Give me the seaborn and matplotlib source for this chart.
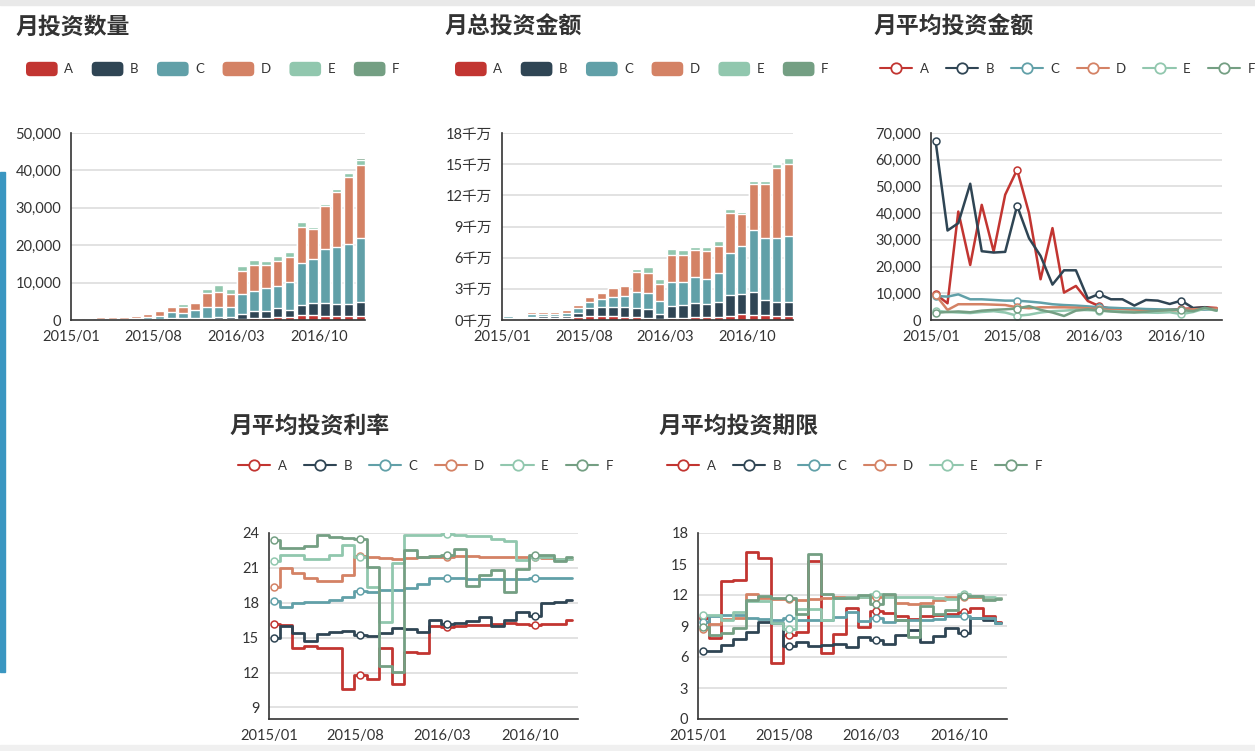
import matplotlib.pyplot as plt
import matplotlib.ticker as mticker
import numpy as np
import pandas as pd
import seaborn as sns
from matplotlib.legend_handler import HandlerPatch
from matplotlib.lines import Line2D
from matplotlib.patches import FancyBboxPatch, Patch, Rectangle


SERIES = ["A", "B", "C", "D", "E", "F"]
COLORS = ["#c23531", "#2f4554", "#61a0a8", "#d48265", "#91c7ae", "#749f83"]
MONTHS = pd.date_range("2015-01-01", periods=25, freq="MS")
DATES = MONTHS + pd.Timedelta(days=12)
TICK_LABELS = ["2015/01", "2015/08", "2016/03", "2016/10"]

# 月投资数量
COUNT_A = [30, 20, 40, 40, 40, 50, 70, 100, 120, 150, 150, 200, 200, 200, 400, 650, 600, 700, 700, 1300, 1400, 1200, 1100, 1100, 1100]
COUNT_B = [80, 60, 120, 120, 110, 150, 200, 250, 400, 400, 450, 400, 500, 550, 1200, 1750, 1900, 2500, 2100, 2800, 3150, 3250, 3300, 3300, 3650]
COUNT_C = [140, 120, 240, 240, 250, 400, 630, 800, 1530, 1300, 2000, 2900, 2870, 2650, 5300, 5460, 6160, 6000, 7470, 11100, 11700, 14550, 15150, 15800, 17150]
COUNT_D = [230, 180, 450, 450, 400, 450, 700, 1150, 1350, 1750, 2050, 3850, 4030, 3650, 6300, 6870, 5990, 6700, 6530, 9700, 8150, 11350, 14650, 18100, 19450]
COUNT_E = [60, 50, 100, 100, 70, 100, 200, 350, 400, 700, 100, 900, 1750, 1250, 1250, 1220, 1250, 1200, 1450, 1300, 600, 650, 800, 1050, 1550]
COUNT_F = [10, 10, 20, 20, 20, 20, 30, 40, 50, 60, 60, 80, 100, 100, 120, 150, 150, 160, 170, 200, 220, 250, 280, 300, 350]

# 月总投资金额 (千万)
AMOUNT_A = [0.10, 0.06, 0.19, 0.19, 0.22, 0.22, 0.32, 0.38, 0.35, 0.35, 0.25, 0.26, 0.16, 0.10, 0.23, 0.23, 0.26, 0.26, 0.26, 0.42, 0.58, 0.48, 0.48, 0.42, 0.39]
AMOUNT_B = [0.09, 0.07, 0.13, 0.16, 0.13, 0.20, 0.39, 0.74, 0.93, 0.93, 1.00, 0.93, 0.90, 0.45, 1.12, 1.25, 1.41, 1.28, 1.44, 1.99, 1.93, 2.25, 1.48, 1.28, 1.31]
AMOUNT_C = [0.16, 0.06, 0.26, 0.23, 0.23, 0.25, 0.41, 0.58, 0.74, 0.96, 1.03, 1.54, 1.54, 1.31, 2.28, 2.15, 2.48, 2.45, 2.80, 4.02, 4.63, 5.89, 5.98, 6.24, 6.40]
AMOUNT_D = [0.10, 0.07, 0.19, 0.19, 0.19, 0.26, 0.32, 0.51, 0.54, 0.80, 1.01, 1.93, 1.97, 1.58, 2.64, 2.67, 2.54, 2.63, 2.60, 3.83, 3.05, 4.50, 5.18, 6.69, 6.92]
AMOUNT_E = [0.11, 0.05, 0.09, 0.06, 0.06, 0.09, 0.09, 0.09, 0.09, 0.08, 0.06, 0.26, 0.57, 0.55, 0.53, 0.45, 0.35, 0.39, 0.53, 0.40, 0.21, 0.26, 0.28, 0.40, 0.56]
AMOUNT_F = [0.01, 0.01, 0.01, 0.01, 0.01, 0.01, 0.01, 0.01, 0.01, 0.02, 0.02, 0.02, 0.03, 0.02, 0.03, 0.03, 0.03, 0.03, 0.03, 0.04, 0.04, 0.04, 0.04, 0.05, 0.05]

# 月平均投资金额
AVG_A = [9700, 6250, 40600, 20600, 43100, 25600, 46900, 56250, 40000, 15250, 34400, 10250, 12750, 7100, 5250, 4200, 3900, 3700, 3600, 3500, 3800, 4100, 4400, 4800, 4500]
AVG_B = [66900, 33500, 36250, 51000, 25750, 25250, 25500, 42750, 30600, 24000, 13250, 18600, 18600, 8000, 9750, 7750, 7750, 5400, 7500, 7250, 6000, 7250, 4500, 4750, 4000]
AVG_C = [9000, 8750, 9600, 7750, 7750, 7500, 7250, 7250, 6900, 6500, 5900, 5600, 5400, 5100, 4750, 4600, 4400, 4300, 4100, 4000, 3900, 3900, 3800, 3900, 4000]
AVG_D = [9400, 3750, 5900, 5900, 5900, 5750, 5600, 4750, 4400, 4750, 4750, 4750, 4600, 4400, 4000, 3700, 3600, 3500, 3300, 3300, 3500, 3800, 4000, 4200, 4300]
AVG_E = [3500, 3000, 2800, 2600, 3000, 3300, 2800, 1600, 2000, 2800, 3300, 3500, 3800, 3700, 3500, 3300, 3200, 3000, 2800, 2700, 2900, 2200, 3000, 4300, 3500]
AVG_F = [2700, 3000, 3200, 2900, 3500, 3800, 4000, 4300, 5200, 3800, 2800, 1500, 3500, 4000, 3600, 3200, 2900, 2800, 3100, 3500, 3800, 3700, 3300, 4600, 3500]

# 月平均投资利率
RATE_A = [16.2, 16.1, 14.1, 14.3, 14.1, 14.1, 10.6, 11.8, 11.4, 14.1, 11.0, 13.8, 13.7, 16.0, 15.9, 16.0, 16.1, 16.1, 16.2, 16.3, 16.2, 16.1, 16.2, 16.2, 16.5]
RATE_B = [15.0, 16.0, 15.4, 14.7, 15.3, 15.5, 15.6, 15.25, 15.1, 15.4, 15.8, 15.7, 15.5, 16.5, 16.2, 16.3, 16.4, 16.8, 16.0, 16.5, 17.2, 16.9, 18.0, 18.1, 18.2]
RATE_C = [18.15, 17.6, 18.0, 18.05, 18.1, 18.2, 18.5, 19.0, 18.95, 19.1, 19.1, 19.3, 19.6, 20.1, 20.15, 20.1, 20.05, 20.05, 20.05, 20.05, 20.05, 20.1, 20.1, 20.15, 20.15]
RATE_D = [19.35, 21.0, 20.55, 20.1, 19.9, 19.9, 20.4, 22.0, 21.9, 21.85, 21.8, 21.85, 21.9, 21.95, 21.9, 22.0, 22.0, 21.95, 21.9, 21.9, 21.9, 21.9, 21.85, 21.8, 21.8]
RATE_E = [21.6, 22.1, 22.1, 21.8, 21.8, 22.1, 23.0, 21.95, 19.35, 16.35, 21.4, 23.8, 23.8, 23.85, 23.9, 23.85, 23.7, 23.75, 23.5, 23.35, 21.7, 21.95, 21.9, 21.8, 21.75]
RATE_F = [23.4, 22.7, 22.7, 22.9, 23.85, 23.65, 23.6, 23.45, 21.1, 12.6, 12.05, 22.5, 21.9, 22.0, 22.1, 22.65, 19.45, 20.35, 20.8, 18.9, 20.9, 22.1, 22.1, 21.55, 21.9]

# 月平均投资期限
TERM_A = [9.75, 7.8, 13.4, 13.5, 16.2, 15.6, 5.45, 8.1, 8.4, 15.25, 6.4, 8.2, 10.7, 8.95, 10.5, 10.3, 10.0, 9.7, 10.0, 10.1, 10.2, 10.4, 10.7, 10.0, 9.4]
TERM_B = [6.6, 6.6, 7.2, 7.7, 8.45, 9.35, 9.25, 7.1, 7.45, 7.1, 7.15, 7.25, 7.0, 7.9, 7.65, 7.25, 8.15, 8.6, 7.45, 8.0, 8.8, 8.35, 9.75, 9.6, 9.25]
TERM_C = [9.4, 10.0, 10.05, 10.05, 9.75, 9.7, 9.6, 9.75, 9.6, 9.6, 9.6, 9.85, 10.4, 9.5, 9.75, 9.4, 9.6, 9.6, 9.6, 9.7, 10.0, 10.0, 9.75, 9.75, 9.3]
TERM_D = [8.7, 9.2, 9.7, 9.8, 12.1, 11.75, 11.65, 11.6, 11.5, 11.65, 11.75, 11.8, 11.8, 11.85, 11.8, 11.9, 11.2, 11.1, 11.2, 11.55, 11.8, 11.8, 11.8, 11.75, 11.7]
TERM_E = [10.1, 10.1, 9.6, 10.4, 11.4, 11.4, 9.25, 8.7, 10.65, 10.65, 9.6, 11.75, 11.8, 11.8, 12.1, 11.85, 11.8, 11.8, 11.8, 11.7, 11.6, 12.05, 11.9, 11.8, 11.7]
TERM_F = [8.95, 8.15, 8.3, 8.8, 11.5, 11.9, 11.75, 11.75, 10.2, 15.95, 12.1, 11.75, 11.75, 12.0, 11.1, 12.1, 9.6, 7.9, 10.9, 10.2, 10.55, 11.9, 11.9, 11.5, 11.65]

W, H = 1255, 751
TEXT = "#333333"


def px_axes(fig, left, top, right, bottom):
    return fig.add_axes([left / W, 1 - bottom / H, (right - left) / W, (bottom - top) / H])


def style_axes(ax):
    for side in ["top", "right"]:
        ax.spines[side].set_visible(False)
    for side in ["left", "bottom"]:
        ax.spines[side].set_color(TEXT)
        ax.spines[side].set_linewidth(1.2)
    ax.yaxis.grid(True, color="#dddddd", linewidth=1.2)
    ax.xaxis.grid(False)
    ax.set_axisbelow(True)
    ax.tick_params(axis="both", colors=TEXT, labelsize=10.5, length=5, width=1.2, pad=2)
    ax.set_xlabel("")
    ax.set_ylabel("")


def add_title(fig, text, x, y):
    fig.text(x / W, 1 - y / H, text, fontsize=16.5, fontweight="bold", color=TEXT,
             family=["Noto Sans CJK SC"], va="center", ha="left")


def rounded_patch(legend, orig_handle, xdescent, ydescent, width, height, fontsize):
    return FancyBboxPatch((-xdescent, -ydescent), width, height,
                          boxstyle="round,pad=0,rounding_size=3")


def add_legend(fig, x, y, kind):
    if kind == "bar":
        handles = [Patch(facecolor=c, edgecolor="none", label=s) for s, c in zip(SERIES, COLORS)]
        extra = dict(handler_map={Patch: HandlerPatch(patch_func=rounded_patch)},
                     handlelength=2.4, handleheight=1.3, handletextpad=0.5, columnspacing=1.4)
    else:
        handles = [Line2D([], [], color=c, lw=1.5, marker="o", ms=7.5, mfc="white", mec=c, mew=1.3, label=s)
                   for s, c in zip(SERIES, COLORS)]
        extra = dict(handlelength=2.45, handletextpad=0.55, columnspacing=1.3)
    leg = fig.legend(handles=handles, loc="center left", bbox_to_anchor=(x / W, 1 - y / H),
                     ncol=6, frameon=False, fontsize=9.5, borderpad=0, borderaxespad=0, **extra)
    for t in leg.get_texts():
        t.set_color(TEXT)


def stacked_bars(ax, layers, ymax, step, fmt):
    labels = list(MONTHS.strftime("%Y/%m"))
    tops = np.cumsum(np.array(layers), axis=0)
    for top, color in reversed(list(zip(tops, COLORS))):
        sns.barplot(x=labels, y=top, color=color, saturation=1, width=0.8, errorbar=None, ax=ax)
    style_axes(ax)
    ax.set_xticks([labels.index(t) - 0.5 for t in TICK_LABELS], TICK_LABELS)
    ax.set_xlim(-0.5, len(labels) - 0.6)
    ax.set_ylim(0, ymax)
    ax.set_yticks(np.arange(0, ymax + step / 2, step))
    ax.yaxis.set_major_formatter(mticker.FuncFormatter(fmt))


def line_panel(ax, series, ymin, ymax, step, ticks_from, steps, lw):
    for values, color in zip(series, COLORS):
        sns.lineplot(x=DATES, y=values, color=color, ax=ax, linewidth=lw,
                     drawstyle="steps-mid" if steps else "default",
                     marker="o", markevery=7, markersize=5, markerfacecolor="white",
                     markeredgecolor=color, markeredgewidth=1.1)
    style_axes(ax)
    ax.set_xticks(pd.to_datetime(TICK_LABELS, format="%Y/%m"), TICK_LABELS)
    ax.set_xlim(MONTHS[0], MONTHS[-1] + pd.Timedelta(days=26))
    ax.set_ylim(ymin, ymax)
    ax.set_yticks(np.arange(ticks_from, ymax + step / 2, step))


sns.set_theme(style="white")
plt.rcParams["font.family"] = ["Lato", "Noto Sans CJK SC", "DejaVu Sans"]

fig = plt.figure(figsize=(W / 100, H / 100), dpi=100)
fig.patch.set_facecolor("white")
fig.patches.append(Rectangle((0, 1 - 5 / H), 1, 5 / H, transform=fig.transFigure, color="#e9e9e9", zorder=0))
fig.patches.append(Rectangle((0, 0), 1, 6 / H, transform=fig.transFigure, color="#f0f0f0", zorder=0))
fig.patches.append(Rectangle((0, 1 - 672 / H), 5 / W, 500 / H, transform=fig.transFigure, color="#3a96c1", zorder=0))

comma = lambda v, _: f"{v:,.0f}"

ax1 = px_axes(fig, 71, 133, 365, 320)
stacked_bars(ax1, [COUNT_A, COUNT_B, COUNT_C, COUNT_D, COUNT_E, COUNT_F], 50000, 10000, comma)
add_title(fig, "月投资数量", 16, 27)
add_legend(fig, 26, 69, "bar")

ax2 = px_axes(fig, 502, 133, 793, 320)
stacked_bars(ax2, [AMOUNT_A, AMOUNT_B, AMOUNT_C, AMOUNT_D, AMOUNT_E, AMOUNT_F], 18, 3,
             lambda v, _: f"{v:g}千万")
add_title(fig, "月总投资金额", 445, 27)
add_legend(fig, 455, 69, "bar")

ax3 = px_axes(fig, 931, 133, 1222, 320)
line_panel(ax3, [AVG_A, AVG_B, AVG_C, AVG_D, AVG_E, AVG_F], 0, 70000, 10000, 0, False, 1.8)
ax3.yaxis.set_major_formatter(mticker.FuncFormatter(comma))
add_title(fig, "月平均投资金额", 874, 27)
add_legend(fig, 880, 69, "line")

ax4 = px_axes(fig, 269, 533, 578, 719)
line_panel(ax4, [RATE_A, RATE_B, RATE_C, RATE_D, RATE_E, RATE_F], 8, 24, 3, 9, True, 2.0)
add_title(fig, "月平均投资利率", 230, 426)
add_legend(fig, 238, 466, "line")

ax5 = px_axes(fig, 698, 533, 1007, 719)
line_panel(ax5, [TERM_A, TERM_B, TERM_C, TERM_D, TERM_E, TERM_F], 0, 18, 3, 0, True, 2.0)
add_title(fig, "月平均投资期限", 659, 426)
add_legend(fig, 667, 466, "line")

fig.savefig("out.png", dpi=100)
